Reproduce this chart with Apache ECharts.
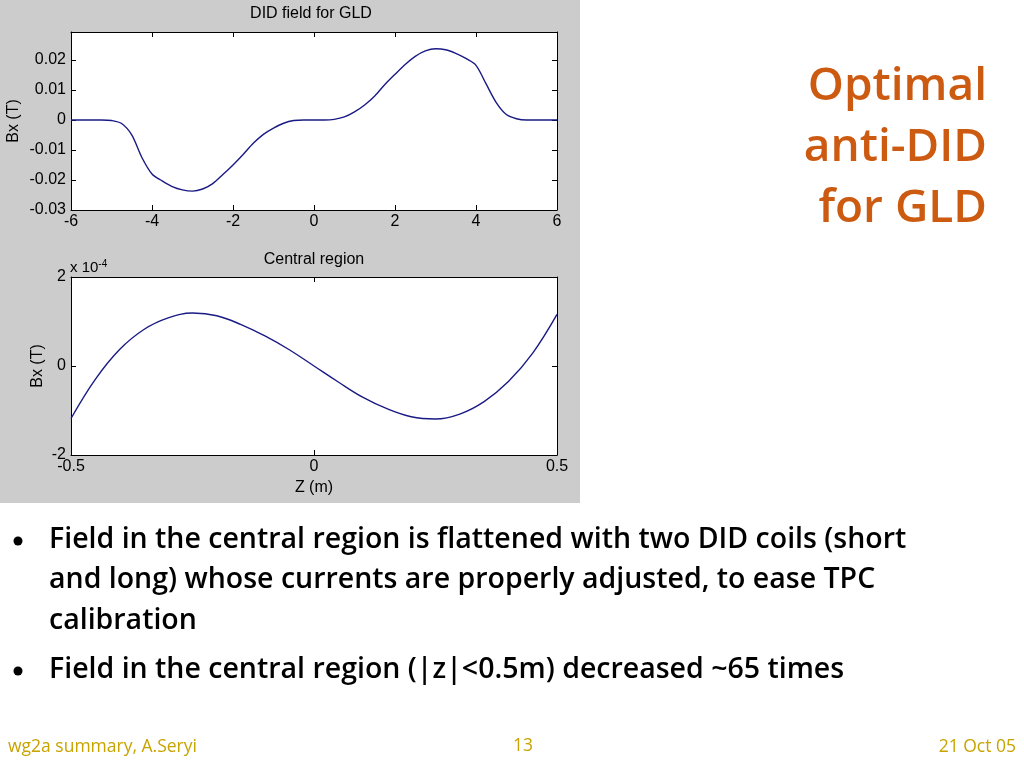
<!DOCTYPE html>
<html><head><meta charset="utf-8">
<script src="https://cdn.jsdelivr.net/npm/echarts@6/dist/echarts.min.js"></script>
<style>html,body{margin:0;padding:0;background:#fff}#c{width:1024px;height:768px}</style>
</head><body><div id="c"></div>
<script>
// Top panel: DID field for GLD, Bx (T) vs Z (m)
const zTop = [-6,-5.75,-5.5,-5.25,-5,-4.75,-4.5,-4.25,-4,-3.75,-3.5,-3.25,-3,-2.75,-2.5,-2.25,-2,-1.75,-1.5,-1.25,-1,-0.75,-0.5,-0.25,0,
  0.25,0.5,0.75,1,1.25,1.5,1.75,2,2.25,2.5,2.75,3,3.25,3.5,3.75,4,4.25,4.5,4.75,5,5.25,5.5,5.75,6];
const bxTop = [0,0,0,0,-0.0002,-0.0012,-0.0050,-0.0125,-0.0180,-0.0203,-0.0222,-0.0233,-0.0237,-0.0230,-0.0212,-0.0182,-0.0150,-0.0115,-0.0078,-0.0048,-0.0027,-0.0011,-0.0002,0,0,
  0,0.0002,0.0010,0.0027,0.0050,0.0080,0.0118,0.0152,0.0185,0.0212,0.0230,0.0237,0.0234,0.0222,0.0205,0.0182,0.0120,0.0058,0.0018,0.0004,0,0,0,0];
// Bottom panel: central region, Bx in units of 1e-4 T
const zCentral = [-0.5,-0.45,-0.4,-0.35,-0.3,-0.25,-0.2,-0.15,-0.1,-0.05,0,0.05,0.1,0.15,0.2,0.25,0.3,0.35,0.4,0.45,0.5];
const bxCentral = [-1.18,-0.30,0.37,0.82,1.08,1.19,1.13,0.93,0.67,0.36,0,-0.36,-0.70,-0.96,-1.14,-1.19,-1.08,-0.80,-0.35,0.29,1.16];
const titleTop = 'DID field for GLD';
const titleCentral = 'Central region';
const slideTitle = ['Optimal', 'anti-DID', 'for GLD'];
const bullets = [
  ['Field in the central region is flattened with two DID coils (short', 'and long) whose currents are properly adjusted, to ease TPC', 'calibration'],
  ['Field in the central region (|z|<0.5m) decreased ~65 times']
];
const footer = ['wg2a summary, A.Seryi', '13', '21 Oct 05'];

const FONT = 'Liberation Sans, Arial, sans-serif';
const SLIDE = '"Open Sans", Lato, sans-serif';
const lineCol = '#1a1a85';
const FS = 16;

function fmt(v){ return String(Number(v.toFixed(2))); }
function baseAxis(extra){
  return Object.assign({
    type:'value',
    axisLine:{show:true,onZero:false,lineStyle:{color:'#000',width:1}},
    axisTick:{show:true,inside:true,length:5,lineStyle:{color:'#000'}},
    splitLine:{show:false},
    axisLabel:{color:'#000',fontFamily:FONT,fontSize:FS,margin:4,formatter:fmt}
  }, extra);
}

const chart = echarts.init(document.getElementById('c'));
const graphic = [
  {type:'rect',shape:{x:0,y:0,width:580,height:503},style:{fill:'#cccccc'},z:-100,silent:true},
  {type:'text',x:311,y:14,style:{text:titleTop,font:'16px '+FONT,fill:'#000',textAlign:'center',textVerticalAlign:'middle'}},
  {type:'text',x:314,y:260,style:{text:titleCentral,font:'16px '+FONT,fill:'#000',textAlign:'center',textVerticalAlign:'middle'}},
  {type:'text',x:70,y:268,style:{text:'{a|x 10}{b|-4}',rich:{a:{fontSize:15,fontFamily:FONT,fill:'#000'},b:{fontSize:10,fontFamily:FONT,fill:'#000',verticalAlign:'top',padding:[0,0,8,0]}},textVerticalAlign:'middle'}}
];
slideTitle.forEach((t,i)=>graphic.push({type:'text',x:987,y:87+i*61,style:{text:t,font:'600 46px '+SLIDE,fill:'#cc5a10',textAlign:'right',textVerticalAlign:'middle'}}));
let ys = [540,580,621,670];
let k=0;
bullets.forEach(b=>{
  graphic.push({type:'circle',shape:{cx:18,cy:ys[k]+1,r:4.5},style:{fill:'#000'}});
  b.forEach(line=>{
    graphic.push({type:'text',x:49,y:ys[k],style:{text:line,font:'600 28.5px '+SLIDE,fill:'#000',textVerticalAlign:'middle'}});
    k++;
  });
});
graphic.push({type:'text',x:8,y:747,style:{text:footer[0],font:'17.5px '+SLIDE,fill:'#c8a400',textVerticalAlign:'middle'}});
graphic.push({type:'text',x:523,y:746,style:{text:footer[1],font:'17.5px '+SLIDE,fill:'#c8a400',textAlign:'center',textVerticalAlign:'middle'}});
graphic.push({type:'text',x:1016,y:747,style:{text:footer[2],font:'17.5px '+SLIDE,fill:'#c8a400',textAlign:'right',textVerticalAlign:'middle'}});

const nameStyle = {color:'#000',fontFamily:FONT,fontSize:FS};
chart.setOption({
  animation:false,
  backgroundColor:'#ffffff',
  graphic: graphic,
  grid:[
    {left:71,top:32,width:486,height:178,show:true,backgroundColor:'#fff',borderWidth:0},
    {left:71,top:277,width:486,height:178,show:true,backgroundColor:'#fff',borderWidth:0}
  ],
  xAxis:[
    baseAxis({gridIndex:0,position:'bottom',min:-6,max:6,interval:2}),
    baseAxis({gridIndex:0,position:'top',min:-6,max:6,interval:2,axisLabel:{show:false}}),
    baseAxis({gridIndex:1,position:'bottom',min:-0.5,max:0.5,interval:0.5,name:'Z (m)',nameLocation:'middle',nameGap:25,nameTextStyle:nameStyle}),
    baseAxis({gridIndex:1,position:'top',min:-0.5,max:0.5,interval:0.5,axisLabel:{show:false}})
  ],
  yAxis:[
    baseAxis({gridIndex:0,position:'left',min:-0.03,max:0.0293,interval:0.01,name:'Bx (T)',nameLocation:'middle',nameGap:49,nameTextStyle:nameStyle,
      axisLabel:{color:'#000',fontFamily:FONT,fontSize:FS,margin:5,formatter:fmt,showMaxLabel:false}}),
    baseAxis({gridIndex:0,position:'right',min:-0.03,max:0.0293,interval:0.01,axisLabel:{show:false}}),
    baseAxis({gridIndex:1,position:'left',min:-2,max:2,interval:2,name:'Bx (T)',nameLocation:'middle',nameGap:25,nameTextStyle:nameStyle,
      axisLabel:{color:'#000',fontFamily:FONT,fontSize:FS,margin:5,formatter:fmt}}),
    baseAxis({gridIndex:1,position:'right',min:-2,max:2,interval:2,axisLabel:{show:false}})
  ],
  series:[
    {type:'line',xAxisIndex:0,yAxisIndex:0,data:zTop.map((z,i)=>[z,bxTop[i]]),smooth:0.3,showSymbol:false,lineStyle:{color:lineCol,width:1.4}},
    {type:'line',xAxisIndex:2,yAxisIndex:2,data:zCentral.map((z,i)=>[z,bxCentral[i]]),smooth:0.4,showSymbol:false,lineStyle:{color:lineCol,width:1.4}}
  ]
});
</script></body></html>
